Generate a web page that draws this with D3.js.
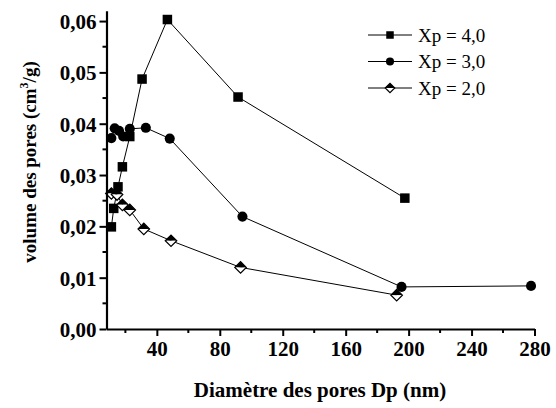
<!DOCTYPE html>
<html>
<head>
<meta charset="utf-8">
<script src="https://cdn.jsdelivr.net/npm/d3@7"></script>
<style>
    body { margin: 0; background: #fff; }
    svg, svg text { font-family: "Liberation Serif", "Times New Roman", serif; }
</style>
</head>
<body>
<div id="chart"></div>
<script>

// pore diameter (nm) / pore volume (cm3/g)
let xp4Diam = [11.1, 12.6, 15.3, 18.1, 22.8, 30.6, 46.7, 91.6, 197.6];
let xp4Vol = [0.0199, 0.0235, 0.0277, 0.0316, 0.0375, 0.0487, 0.0603, 0.0452, 0.0255];

let xp3Diam = [11.1, 13.2, 16.0, 18.6, 22.8, 33.0, 48.2, 94.4, 195.5, 277.8];
let xp3Vol = [0.0372, 0.0391, 0.0386, 0.0375, 0.0390, 0.0392, 0.0371, 0.0219, 0.0082, 0.0084];

let xp2Diam = [11.1, 14.7, 18.1, 22.8, 31.7, 49.0, 93.2, 192.4];
let xp2Vol = [0.0264, 0.0262, 0.0242, 0.0232, 0.0195, 0.0172, 0.0120, 0.0066];

let seriesNames = ["Xp = 4,0", "Xp = 3,0", "Xp = 2,0"];
let seriesShapes = ["square", "circle", "diamond"];

let xTicks = [40, 80, 120, 160, 200, 240, 280];
let xMinorTicks = [20, 60, 100, 140, 180, 220, 260];
let yTicks = [0, 0.01, 0.02, 0.03, 0.04, 0.05, 0.06];
let yMinorTicks = [0.005, 0.015, 0.025, 0.035, 0.045, 0.055];

let series = [
    {name: seriesNames[0], shape: seriesShapes[0], values: xp4Diam.map((d, i) => ({x: d, y: xp4Vol[i]}))},
    {name: seriesNames[1], shape: seriesShapes[1], values: xp3Diam.map((d, i) => ({x: d, y: xp3Vol[i]}))},
    {name: seriesNames[2], shape: seriesShapes[2], values: xp2Diam.map((d, i) => ({x: d, y: xp2Vol[i]}))}
];

let width = 556, height = 408;
let serif = "'Liberation Serif', 'Times New Roman', serif";

let svg = d3.select("#chart").append("svg")
    .attr("width", width)
    .attr("height", height);

let x = d3.scaleLinear().domain([8, 280]).range([106.5, 534.5]);
let y = d3.scaleLinear().domain([0, 0.062]).range([329, 10.8]);

let commaFmt = d => d3.format(".2f")(d).replace(".", ",");

// draw a marker shape centred at 0,0
function drawMarker(g, shape, s) {
    if (shape === "square") {
        g.append("rect")
            .attr("x", -s / 2).attr("y", -s / 2)
            .attr("width", s).attr("height", s)
            .attr("fill", "#000");
    } else if (shape === "circle") {
        g.append("circle")
            .attr("r", s / 2 + 0.3)
            .attr("fill", "#000");
    } else {
        let h = s / 2 + 1;
        g.append("path")
            .attr("d", `M${-h},0 L0,${-h} L${h},0 Z`)
            .attr("fill", "#000");
        g.append("path")
            .attr("d", `M${-h},0 L0,${h} L${h},0 Z`)
            .attr("fill", "#fff");
        g.append("path")
            .attr("d", `M${-h},0 L0,${-h} L${h},0 L0,${h} Z`)
            .attr("fill", "none")
            .attr("stroke", "#000")
            .attr("stroke-width", 1.2);
    }
}

// lines + markers
let line = d3.line().x(d => x(d.x)).y(d => y(d.y));

series.forEach(s => {
    svg.append("path")
        .datum(s.values)
        .attr("d", line)
        .attr("fill", "none")
        .attr("stroke", "#000")
        .attr("stroke-width", 1);
});

[1, 0, 2].forEach(i => {
    let s = series[i];
    svg.append("g").selectAll("g")
        .data(s.values)
        .join("g")
        .attr("transform", d => `translate(${x(d.x)},${y(d.y)})`)
        .each(function () { drawMarker(d3.select(this), s.shape, 9.5); });
});

// axes
let xAxis = svg.append("g")
    .attr("transform", `translate(0,${y(0)})`)
    .call(d3.axisBottom(x).tickValues(xTicks).tickSize(7).tickSizeOuter(0).tickPadding(5));
xAxis.append("g").selectAll("line")
    .data(xMinorTicks)
    .join("line")
    .attr("x1", d => x(d)).attr("x2", d => x(d))
    .attr("y1", 0).attr("y2", 4)
    .attr("stroke", "#000").attr("stroke-width", 2);

let yAxis = svg.append("g")
    .attr("transform", `translate(${x(8)},0)`)
    .call(d3.axisLeft(y).tickValues(yTicks).tickFormat(commaFmt).tickSize(7).tickSizeOuter(0).tickPadding(3));
yAxis.append("g").selectAll("line")
    .data(yMinorTicks)
    .join("line")
    .attr("y1", d => y(d)).attr("y2", d => y(d))
    .attr("x1", 0).attr("x2", -4)
    .attr("stroke", "#000").attr("stroke-width", 2);

xAxis.attr("font-family", null).attr("font-size", null);
yAxis.attr("font-family", null).attr("font-size", null);
svg.selectAll(".domain").attr("stroke-width", 2.2);
svg.selectAll(".tick line").attr("stroke-width", 2);
svg.selectAll(".tick text")
    .style("font-family", serif)
    .style("font-size", "21px")
    .style("font-weight", "bold")
    .attr("fill", "#000");
yAxis.selectAll(".tick text").attr("dy", "0.36em");

// axis titles
svg.append("text")
    .attr("x", 320)
    .attr("y", 397)
    .attr("text-anchor", "middle")
    .style("font-family", serif)
    .style("font-size", "21px")
    .style("font-weight", "bold")
    .text("Diamètre des pores Dp (nm)");

let yTitle = svg.append("text")
    .attr("transform", "translate(36,162) rotate(-90)")
    .attr("text-anchor", "middle")
    .style("font-family", serif)
    .style("font-size", "19px")
    .style("font-weight", "bold");
yTitle.append("tspan").text("volume des pores (cm");
yTitle.append("tspan").style("font-size", "12px").attr("dy", -8).text("3");
yTitle.append("tspan").attr("dy", 8).text("/g)");

// legend
let legend = svg.append("g").attr("transform", "translate(368,35)");
series.forEach((s, i) => {
    let row = legend.append("g").attr("transform", `translate(0,${i * 26.5})`);
    row.append("line")
        .attr("x1", 0).attr("x2", 44)
        .attr("stroke", "#000").attr("stroke-width", 1);
    let m = row.append("g").attr("transform", "translate(22,0)");
    drawMarker(m, s.shape, 7.5);
    row.append("text")
        .attr("x", 50)
        .attr("y", 0)
        .attr("dy", "0.35em")
        .style("font-family", serif)
        .style("font-size", "19px")
        .text(s.name);
});

</script>
</body>
</html>
